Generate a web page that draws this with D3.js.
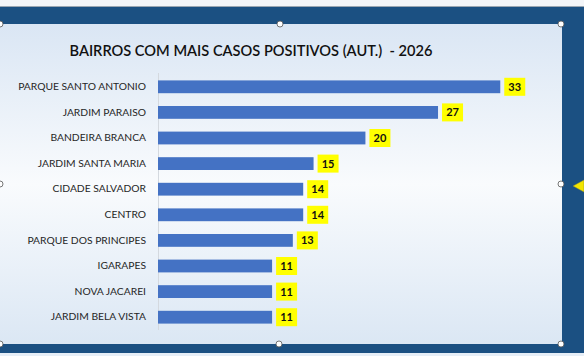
<!DOCTYPE html>
<html><head><meta charset="utf-8">
<script src="https://cdn.jsdelivr.net/npm/d3@7"></script>
<style>html,body{margin:0;padding:0;background:#fff;}svg{display:block;}</style>
</head><body>
<svg id="c" width="584" height="356"></svg>
<script>
const title = "BAIRROS COM MAIS CASOS POSITIVOS (AUT.)  - 2026";
const categories = ["PARQUE SANTO ANTONIO","JARDIM PARAISO","BANDEIRA BRANCA","JARDIM SANTA MARIA","CIDADE SALVADOR","CENTRO","PARQUE DOS PRINCIPES","IGARAPES","NOVA JACAREI","JARDIM BELA VISTA"];
const values = [33,27,20,15,14,14,13,11,11,11];

const svg = d3.select("#c");
const font = "Lato, 'Open Sans', sans-serif";

// outer frame (worksheet / selection look)
svg.append("rect").attr("x",0).attr("y",0).attr("width",584).attr("height",356).attr("fill","#f3f5f8");
svg.append("rect").attr("x",0).attr("y",6).attr("width",584).attr("height",1).attr("fill","#9aa6b2");
svg.append("rect").attr("x",0).attr("y",7).attr("width",584).attr("height",346).attr("fill","#1b5082");
svg.append("rect").attr("x",0).attr("y",353).attr("width",584).attr("height",3).attr("fill","#e6eef7");

const defs = svg.append("defs");
const g = defs.append("linearGradient").attr("id","bg").attr("x1",0).attr("y1",0).attr("x2",0).attr("y2",1);
g.append("stop").attr("offset","0%").attr("stop-color","#dae6f4");
g.append("stop").attr("offset","50%").attr("stop-color","#f9fbfd");
g.append("stop").attr("offset","100%").attr("stop-color","#dbe7f4");

const chartL = 0, chartT = 24, chartR = 562, chartB = 344;
svg.append("rect").attr("x",chartL).attr("y",chartT).attr("width",chartR-chartL).attr("height",chartB-chartT).attr("fill","url(#bg)");

// title
svg.append("text").attr("x",251).attr("y",56).attr("text-anchor","middle")
  .attr("font-family",font).attr("font-size",14.6).attr("font-weight",600).attr("fill","#111")
  .style("white-space","pre").text(title);

const x = d3.scaleLinear().domain([0,35]).range([158,521]);
const y = d3.scaleBand().domain(categories).range([74,330]).paddingInner(0.5).paddingOuter(0.25);

// axis line
svg.append("line").attr("x1",158.5).attr("x2",158.5).attr("y1",73).attr("y2",330).attr("stroke","#d4d9df").attr("stroke-width",1);

// category labels
const yAxis = d3.axisLeft(y).tickSize(0).tickPadding(12);
const ya = svg.append("g").attr("transform","translate(158,0)").call(yAxis);
ya.select(".domain").remove();
ya.selectAll("text").attr("font-family",font).attr("font-size",10.3).attr("fill","#262626");

// bars
svg.append("g").selectAll("rect").data(values).join("rect")
  .attr("x",x(0)).attr("y",(d,i)=>y(categories[i]))
  .attr("width",d=>x(d)-x(0)).attr("height",y.bandwidth()).attr("fill","#4472c4");

// data labels
const lab = svg.append("g").selectAll("g").data(values).join("g")
  .attr("transform",(d,i)=>`translate(${x(d)+4},${y(categories[i])+y.bandwidth()/2})`);
lab.append("rect").attr("x",0).attr("y",-9).attr("width",21).attr("height",18).attr("fill","#ffff00");
lab.append("text").attr("x",10.5).attr("y",4).attr("text-anchor","middle")
  .attr("font-family",font).attr("font-size",11).attr("font-weight",700).attr("fill","#111").text(d=>d);

// selection handles
const handles = [[0,24],[280,24],[561,24],[0,184],[561,184],[0,344],[279,344],[561,344]];
svg.append("g").selectAll("circle").data(handles).join("circle")
  .attr("cx",d=>d[0]).attr("cy",d=>d[1]).attr("r",3).attr("fill","#fff").attr("stroke","#555").attr("stroke-width",0.8);

// yellow arrow on right
svg.append("path").attr("d","M573,186 L584,180 L584,192 Z").attr("fill","#f2e500").attr("stroke","#8a8a30").attr("stroke-width",0.5);
</script>
</body></html>
